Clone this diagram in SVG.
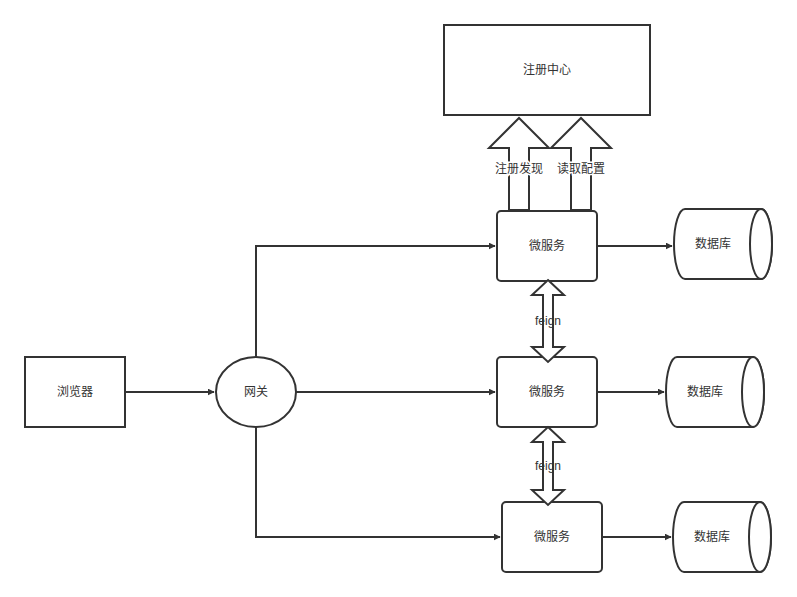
<svg xmlns="http://www.w3.org/2000/svg" width="797" height="597" viewBox="0 0 797 597">
<defs>
<style>
.n{fill:#fff;stroke:#333;stroke-width:2}
.t{font-family:"Liberation Sans","Noto Sans CJK SC",sans-serif;font-size:12px;fill:#333;text-anchor:middle;dominant-baseline:central}
.c{fill:none;stroke:#333;stroke-width:2}
</style>
<marker id="a" viewBox="0 0 10 10" refX="9" refY="5" markerWidth="7" markerHeight="7" markerUnits="userSpaceOnUse" orient="auto"><path d="M0,0L10,5L0,10Z" fill="#333"/></marker>
</defs>
<rect width="797" height="597" fill="#fff"/>
<g id="connectors">
<path class="c" d="M125,392H214" marker-end="url(#a)" style="stroke-width:2" />
<path class="c" d="M256,357V246H495" marker-end="url(#a)"/>
<path class="c" d="M296,392H495" marker-end="url(#a)"/>
<path class="c" d="M256,427V537H500" marker-end="url(#a)"/>
<path class="c" d="M597,246H672" marker-end="url(#a)"/>
<path class="c" d="M597,392H664" marker-end="url(#a)"/>
<path class="c" d="M602,537H671" marker-end="url(#a)"/>
</g>
<g id="registry"><rect class="n" x="444" y="25" width="206" height="90"/><text class="t" x="547" y="70">注册中心</text></g>
<g id="arrow-register"><path class="n" d="M509,210V148H489L519,118L549,148H529V210Z"/><text class="t" x="519" y="169" style="paint-order:stroke;stroke:#fff;stroke-width:3">注册发现</text></g>
<g id="arrow-config"><path class="n" d="M571,210V148H551L581,118L611,148H591V210Z"/><text class="t" x="581" y="169" style="paint-order:stroke;stroke:#fff;stroke-width:3">读取配置</text></g>
<g id="browser"><rect class="n" x="25" y="357" width="100" height="70"/><text class="t" x="75" y="392">浏览器</text></g>
<g id="gateway"><ellipse class="n" cx="256" cy="392" rx="40" ry="35"/><text class="t" x="256" y="392">网关</text></g>
<g id="ms1"><rect class="n" x="497" y="211" width="100" height="70" rx="4"/><text class="t" x="547" y="246">微服务</text></g>
<g id="ms2"><rect class="n" x="497" y="357" width="100" height="70" rx="4"/><text class="t" x="547" y="392">微服务</text></g>
<g id="ms3"><rect class="n" x="502" y="502" width="100" height="70" rx="4"/><text class="t" x="552" y="537">微服务</text></g>
<g id="db1"><path class="n" d="M685,209H761A11,35 0 0 1 761,279H685A11,35 0 0 1 685,209Z"/><ellipse class="n" cx="761" cy="244" rx="11" ry="35"/><text class="t" x="713" y="244">数据库</text></g>
<g id="db2"><path class="n" d="M677,357H753A11,35 0 0 1 753,427H677A11,35 0 0 1 677,357Z"/><ellipse class="n" cx="753" cy="392" rx="11" ry="35"/><text class="t" x="705" y="392">数据库</text></g>
<g id="db3"><path class="n" d="M684,502H760A11,35 0 0 1 760,572H684A11,35 0 0 1 684,502Z"/><ellipse class="n" cx="760" cy="537" rx="11" ry="35"/><text class="t" x="712" y="537">数据库</text></g>
<g id="feign1"><path class="n" d="M548,280L564,295H553V347H564L548,362L532,347H543V295H532Z"/><text class="t" x="548" y="321">feign</text></g>
<g id="feign2"><path class="n" d="M548,427L564,442H553V490H564L548,505L532,490H543V442H532Z"/><text class="t" x="548" y="466">feign</text></g>
</svg>
